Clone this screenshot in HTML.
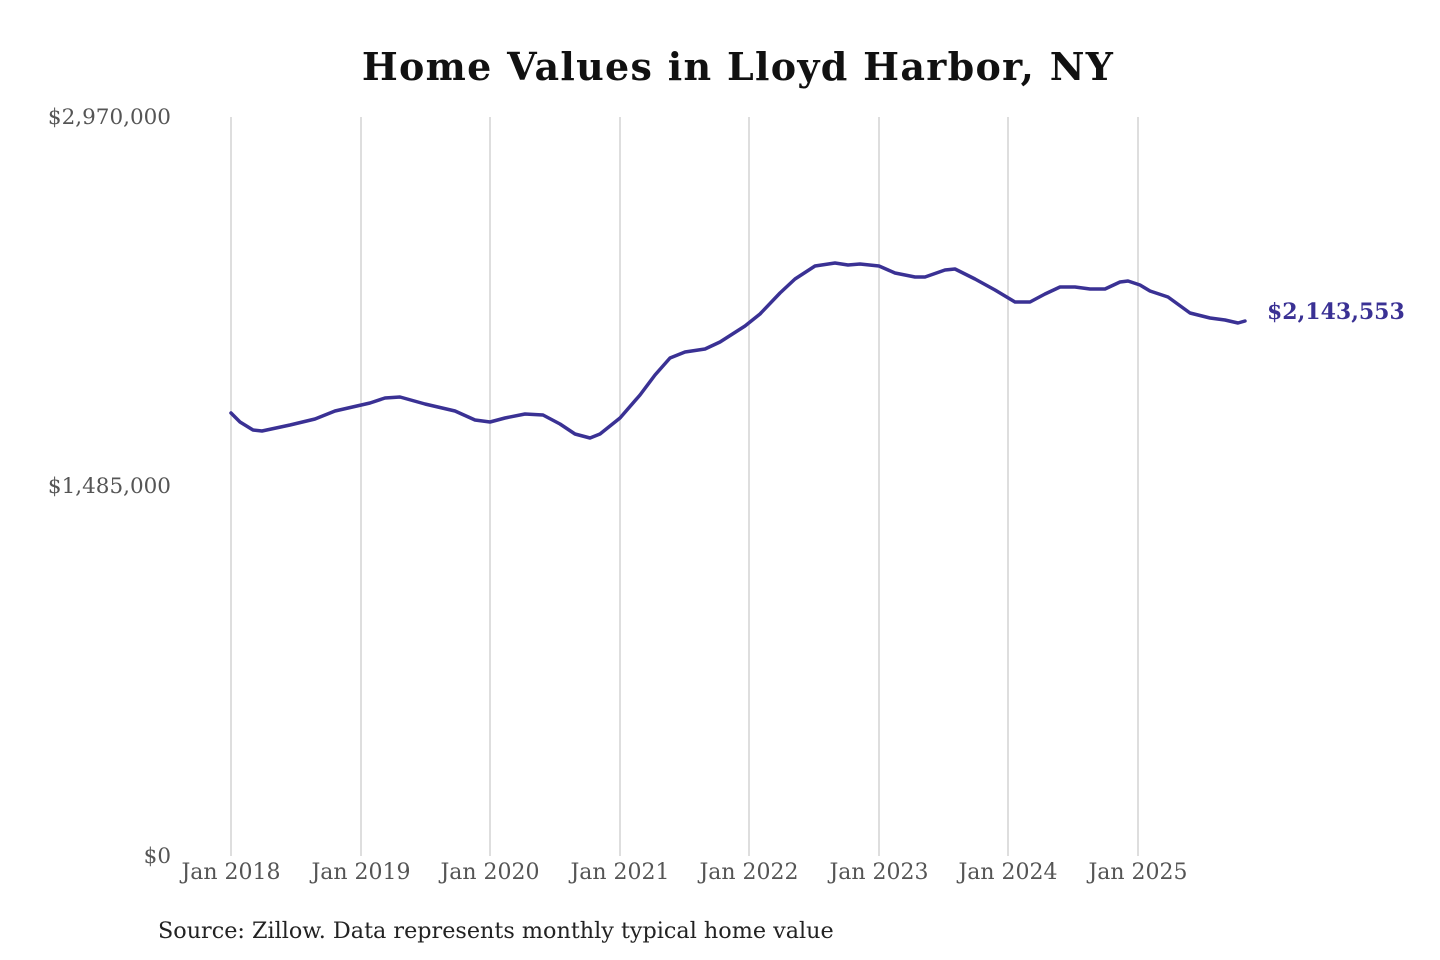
<!DOCTYPE html>
<html><head><meta charset="utf-8"><style>
html,body{margin:0;padding:0;background:#fff;width:1440px;height:960px;overflow:hidden}
svg{display:block}
text{font-family:"DejaVu Serif","Liberation Serif",serif}
</style></head><body>
<svg width="1440" height="960" viewBox="0 0 1440 960">
<text x="738" y="80" text-anchor="middle" font-size="38" font-weight="bold" letter-spacing="1.3" fill="#111">Home Values in Lloyd Harbor, NY</text>
<g stroke="#c8c8c8" stroke-width="1.2">
<line x1="231" y1="117" x2="231" y2="856"/><line x1="361" y1="117" x2="361" y2="856"/>
<line x1="490" y1="117" x2="490" y2="856"/><line x1="620" y1="117" x2="620" y2="856"/>
<line x1="749" y1="117" x2="749" y2="856"/><line x1="879" y1="117" x2="879" y2="856"/>
<line x1="1008" y1="117" x2="1008" y2="856"/><line x1="1138" y1="117" x2="1138" y2="856"/>
</g>
<g font-size="21.5" fill="#555" text-anchor="end">
<text x="171" y="124">$2,970,000</text>
<text x="171" y="493">$1,485,000</text>
<text x="171" y="863">$0</text>
</g>
<g font-size="22" fill="#555" text-anchor="middle">
<text x="231" y="879">Jan 2018</text><text x="361" y="879">Jan 2019</text>
<text x="490" y="879">Jan 2020</text><text x="620" y="879">Jan 2021</text>
<text x="749" y="879">Jan 2022</text><text x="879" y="879">Jan 2023</text>
<text x="1008" y="879">Jan 2024</text><text x="1138" y="879">Jan 2025</text>
</g>
<polyline fill="none" stroke="#3a3194" stroke-width="3.5" stroke-linejoin="round" stroke-linecap="round" points="231,413 240,422 253,430 262,431 290,425 315,419 335,411 370,403 385,398 400,397 425,404 455,411 475,420 490,422 505,418 525,414 543,415 560,424 575,434 590,438 600,434 620,418 640,395 655,375 670,358 685,352 705,349 720,342 745,326 760,314 780,293 795,279 815,266 835,263 848,265 860,264 879,266 895,273 915,277 925,277 945,270 955,269 975,279 995,290 1015,302 1030,302 1045,294 1060,287 1075,287 1090,289 1105,289 1120,282 1128,281 1140,285 1150,291 1168,297 1190,313 1210,318 1225,320 1238,323 1245,321"/>
<text x="1267" y="319" font-size="22" font-weight="bold" fill="#3a3194">$2,143,553</text>
<text x="158" y="938" font-size="22.3" fill="#222">Source: Zillow. Data represents monthly typical home value</text>
</svg>
</body></html>
